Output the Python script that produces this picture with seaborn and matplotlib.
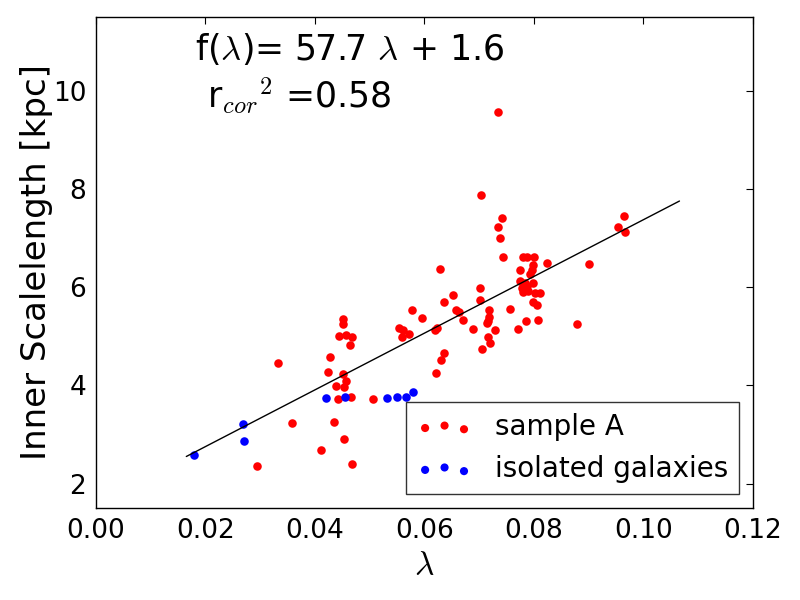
import numpy as np
import pandas as pd
import matplotlib
matplotlib.use("Agg")
import matplotlib.pyplot as plt
import seaborn as sns

# ---- data ----
sampleA_lambda = [0.0294, 0.0332, 0.0358, 0.0411, 0.0424, 0.0427, 0.0438, 0.0442, 0.0435, 0.0444,
                  0.0451, 0.0451, 0.0451, 0.0453, 0.0453, 0.0457, 0.0457, 0.0464, 0.0466, 0.0468,
                  0.0468, 0.0506, 0.0553, 0.0561, 0.0572, 0.0559, 0.0577, 0.0595, 0.0619, 0.0623,
                  0.0621, 0.0630, 0.0636, 0.0628, 0.0636, 0.0652, 0.0658, 0.0663, 0.0670, 0.0689,
                  0.0701, 0.0701, 0.0703, 0.0705, 0.0714, 0.0716, 0.0718, 0.0718, 0.0716, 0.0720,
                  0.0729, 0.0734, 0.0734, 0.0738, 0.0742, 0.0743, 0.0756, 0.0771, 0.0774, 0.0774,
                  0.0778, 0.0780, 0.0780, 0.0784, 0.0785, 0.0787, 0.0787, 0.0789, 0.0793, 0.0796,
                  0.0798, 0.0798, 0.0800, 0.0802, 0.0798, 0.0805, 0.0807, 0.0811, 0.0824, 0.0878,
                  0.0900, 0.0953, 0.0964, 0.0966]
sampleA_scale = [2.35, 4.46, 3.24, 2.69, 4.28, 4.57, 3.98, 3.73, 3.26, 5.01,
                 5.36, 5.24, 4.24, 3.96, 2.90, 5.03, 4.08, 4.83, 3.77, 4.99,
                 2.39, 3.73, 5.16, 5.12, 5.05, 4.99, 5.54, 5.38, 5.12, 5.16,
                 4.26, 4.51, 4.65, 6.36, 5.69, 5.83, 5.54, 5.50, 5.34, 5.14,
                 5.99, 5.73, 7.87, 4.73, 5.26, 5.30, 5.54, 5.40, 4.99, 4.87,
                 5.12, 9.56, 7.23, 6.99, 7.40, 6.62, 5.56, 5.14, 6.34, 6.13,
                 5.99, 5.89, 6.62, 6.09, 5.30, 6.62, 6.03, 5.93, 6.26, 6.34,
                 6.44, 6.09, 6.62, 5.87, 5.69, 5.63, 5.34, 5.87, 6.48, 5.24,
                 6.46, 7.23, 7.44, 7.13]

isolated_lambda = [0.0179, 0.0268, 0.0270, 0.0420, 0.0455, 0.0532, 0.0550, 0.0566, 0.0579]
isolated_scale = [2.59, 3.22, 2.86, 3.75, 3.77, 3.75, 3.77, 3.77, 3.87]

fit_slope = 57.7
fit_intercept = 1.6
fit_lambda_range = [0.0165, 0.1066]
r2 = 0.58

x_ticks = [0.00, 0.02, 0.04, 0.06, 0.08, 0.10, 0.12]
y_ticks = [2, 4, 6, 8, 10]

# ---- style ----
sns.set_style("white")
plt.rcParams['font.family'] = ['DejaVu Sans']
plt.rcParams['mathtext.fontset'] = 'cm'
plt.rcParams['text.color'] = 'black'
plt.rcParams['axes.labelcolor'] = 'black'
plt.rcParams['xtick.color'] = 'black'
plt.rcParams['ytick.color'] = 'black'

dfA = pd.DataFrame({"lam": sampleA_lambda, "rs": sampleA_scale})
dfI = pd.DataFrame({"lam": isolated_lambda, "rs": isolated_scale})
fit_x = np.array(fit_lambda_range)
dfF = pd.DataFrame({"lam": fit_x, "rs": fit_slope * fit_x + fit_intercept})

fig = plt.figure(figsize=(8, 6), dpi=100)
ax = fig.add_axes([0.12, 0.153, 0.821, 0.819])

sns.lineplot(data=dfF, x="lam", y="rs", ax=ax, color="black", linewidth=1.0)
sns.scatterplot(data=dfA, x="lam", y="rs", ax=ax, color="#ff0000", s=38,
                linewidth=0, label="sample A")
sns.scatterplot(data=dfI, x="lam", y="rs", ax=ax, color="#0000ff", s=38,
                linewidth=0, label="isolated galaxies")

ax.set_xlim(0.0, 0.12)
ax.set_ylim(1.5, 11.5)
ax.set_xticks(x_ticks)
ax.set_xticklabels([f"{v:.2f}" for v in x_ticks])
ax.set_yticks(y_ticks)
ax.set_yticklabels([str(v) for v in y_ticks])
ax.tick_params(direction="in", length=5, width=0.8, top=True, right=True,
               labelsize=19, colors="black", pad=7)
for sp in ax.spines.values():
    sp.set_visible(True)
    sp.set_color("black")
    sp.set_linewidth(1.0)

ax.set_xlabel(r"$\lambda$", fontsize=24, labelpad=4)
ax.set_ylabel("Inner Scalelength [kpc]", fontsize=24.5, labelpad=0)

ax.text(0.0181, 10.62, r"f($\lambda$)= %.1f $\lambda$ + %.1f" % (fit_slope, fit_intercept),
        fontsize=25, ha="left", va="baseline")
ax.text(0.0203, 9.64, r"r$_{cor}$$^2$ =%.2f" % r2, fontsize=25, ha="left", va="baseline")

leg = ax.legend(loc="lower right", scatterpoints=3, scatteryoffsets=[0.375, 0.5, 0.3125],
                fontsize=20, frameon=True, fancybox=False, borderaxespad=0.5,
                markerscale=0.95)
leg.get_frame().set_edgecolor("black")
leg.get_frame().set_linewidth(1.0)

fig.savefig("out.png", dpi=100)
